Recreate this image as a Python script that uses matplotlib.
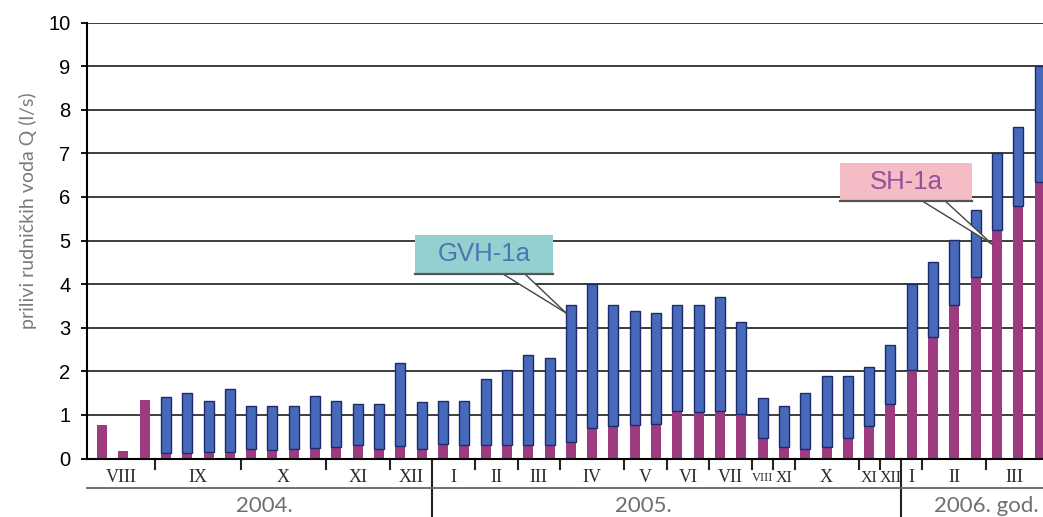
import numpy as np
import matplotlib.pyplot as plt
from matplotlib.patches import Rectangle, Polygon
from matplotlib.transforms import blended_transform_factory

# prilivi po mjerenjima (l/s): SH-1a donji dio stupca, GVH-1a gornji dio
sh_1a = [0.77, 0.18, 1.35, 0.13, 0.13, 0.16, 0.16, 0.22, 0.19, 0.22,
         0.24, 0.26, 0.32, 0.21, 0.28, 0.21, 0.33, 0.30, 0.30, 0.32,
         0.31, 0.30, 0.37, 0.70, 0.74, 0.76, 0.80, 1.08, 1.07, 1.08,
         1.03, 0.46, 0.26, 0.22, 0.26, 0.47, 0.74, 1.24, 2.02, 2.79,
         3.52, 4.17, 5.24, 5.78, 6.35]
gvh_1a = [0.00, 0.00, 0.00, 1.27, 1.38, 1.16, 1.43, 0.98, 1.01, 0.98,
          1.19, 1.05, 0.94, 1.05, 1.92, 1.08, 0.99, 1.02, 1.52, 1.72,
          2.07, 2.01, 3.15, 3.30, 2.78, 2.63, 2.53, 2.44, 2.45, 2.62,
          2.09, 0.93, 0.94, 1.29, 1.63, 1.42, 1.37, 1.37, 1.99, 1.72,
          1.49, 1.53, 1.76, 1.83, 2.65]

# mjeseci i broj mjerenja u svakom
month_labels = ["VIII", "IX", "X", "XI", "XII",
                "I", "II", "III", "IV", "V", "VI", "VII", "VIII", "XI", "X", "XI", "XII",
                "I", "II", "III"]
month_counts = [3, 4, 4, 3, 2,
                2, 2, 2, 3, 2, 2, 2, 1, 1, 3, 1, 1,
                1, 3, 3]
year_labels = ["2004.", "2005.", "2006. god."]
year_months = [5, 12, 3]
year_x = [7.6, 25.4, 41.5]

W, H = 1043, 517
fig = plt.figure(figsize=(W / 100, H / 100), dpi=100)
ax = fig.add_axes([87 / W, 1 - 458.5 / H, 1 - 87 / W, (458.5 - 22.5) / H])

x = np.arange(len(sh_1a))
bw = 0.47
xmin, xmax = -0.704, (W - 102) / 21.31

for yv in range(1, 11):
    ax.axhline(yv, color="#2e2e2e", lw=1.3, zorder=1)

ax.bar(x, sh_1a, width=bw, color="#9e3b80", lw=0, zorder=2)
blue = [g if g > 0 else np.nan for g in gvh_1a]
ax.bar(x, blue, width=bw, bottom=sh_1a, color="#4769b9",
       edgecolor="#1e2a6c", lw=1.0, zorder=2)

ax.set_xlim(xmin, xmax)
ax.set_ylim(0, 10)
ax.set_yticks(range(0, 11))
ax.set_xticks([])
for s in ["top", "right"]:
    ax.spines[s].set_visible(False)
ax.spines["left"].set_linewidth(1.5)
ax.spines["bottom"].set_linewidth(1.5)
ax.tick_params(axis="y", length=4, width=1.3, pad=8, labelsize=14.5)
for lab in ax.get_yticklabels():
    lab.set_fontfamily("Liberation Sans")

fig.text(28 / W, 1 - 211 / H, "prilivi rudničkih voda Q (l/s)", rotation=90,
         ha="center", va="center", fontsize=14, color="#7a7a7a",
         family="Lato")

# mjeseci i godine ispod osi
tr = blended_transform_factory(ax.transData, fig.transFigure)
fy = lambda py: 1 - py / H
bounds = np.concatenate([[xmin], np.cumsum(month_counts) - 0.5])
bounds[-1] = xmax
year_bounds = np.cumsum(month_counts)[np.cumsum(year_months) - 1] - 0.5

for i, lab in enumerate(month_labels):
    cx = (bounds[i] + bounds[i + 1]) / 2
    size = 13
    if month_counts[i] == 1 and len(lab) > 1:
        size = 9 if len(lab) > 3 else 11.5
    ax.text(cx, fy(478), lab, transform=tr, ha="center", va="center",
            family="Liberation Serif", fontsize=size, color="#2a2a2a")
for b in bounds[1:-1]:
    if np.any(np.isclose(b, year_bounds)):
        continue
    ax.plot([b, b], [fy(459), fy(469)], transform=tr, color="#222222",
            lw=1.5, clip_on=False)
for b in year_bounds[:-1]:
    ax.plot([b, b], [fy(459), 0], transform=tr, color="#222222",
            lw=1.5, clip_on=False)
ax.plot([xmin, xmax], [fy(488), fy(488)], transform=tr, color="#666666",
        lw=1.3, clip_on=False)
for lab, yx in zip(year_labels, year_x):
    ax.text(yx, fy(506), lab, transform=tr, ha="center", va="center",
            family="Lato", fontsize=16, color="#6f6f6f")


def callout(ax, x0, x1, y0, y1, base, tip, text, face, tcolor):
    ax.add_patch(Polygon([(base[0], y0), (base[1], y0), tip], closed=True,
                         facecolor="white", edgecolor="none", zorder=4))
    ax.plot([base[0], tip[0]], [y0, tip[1]], color="#444444", lw=1, zorder=5)
    ax.plot([base[1], tip[0]], [y0, tip[1]], color="#444444", lw=1, zorder=5)
    ax.add_patch(Rectangle((x0, y0), x1 - x0, y1 - y0, facecolor=face,
                           edgecolor="none", zorder=5))
    ax.plot([x0, x1], [y0, y0], color="#555555", lw=1.6, zorder=6)
    ax.text((x0 + x1) / 2, (y0 + y1) / 2, text, ha="center", va="center",
            family="Liberation Sans", fontsize=18.5, color=tcolor, zorder=7)


callout(ax, 14.69, 21.16, 4.23, 5.13, (18.82, 19.85), (21.77, 3.34),
        "GVH-1a", "#93d0cf", "#4f73b3")
callout(ax, 34.63, 40.83, 5.91, 6.78, (38.48, 39.56), (41.76, 4.92),
        "SH-1a", "#f4bcc4", "#93509b")

fig.savefig("out.png", dpi=100)
